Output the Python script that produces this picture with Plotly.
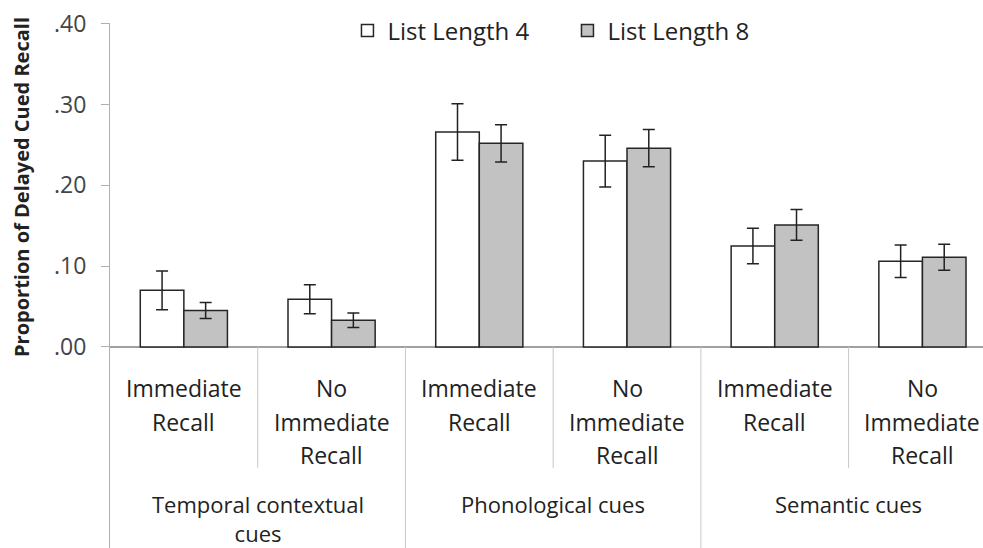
import plotly.graph_objects as go

# ---- data ----
conditions = ["Temporal / Immediate Recall", "Temporal / No Immediate Recall",
              "Phonological / Immediate Recall", "Phonological / No Immediate Recall",
              "Semantic / Immediate Recall", "Semantic / No Immediate Recall"]
list4_values = [0.070, 0.059, 0.266, 0.230, 0.125, 0.106]
list4_errors = [0.024, 0.018, 0.035, 0.032, 0.022, 0.020]
list8_values = [0.045, 0.033, 0.252, 0.246, 0.151, 0.111]
list8_errors = [0.010, 0.009, 0.023, 0.023, 0.019, 0.016]
series_names = ["List Length 4", "List Length 8"]
sub_label_lines = [["Immediate", "Recall"], ["No", "Immediate", "Recall"]] * 3
group_labels = ["Temporal contextual<br>cues", "Phonological cues", "Semantic cues"]
tick_values = [0.0, 0.1, 0.2, 0.3, 0.4]
tick_labels = [".00", ".10", ".20", ".30", ".40"]
y_title = "Proportion of Delayed Cued Recall"

FONT = "Open Sans"
x_idx = list(range(len(conditions)))

fig = go.Figure()
fig.add_trace(go.Bar(
    x=x_idx, y=list4_values, name=series_names[0],
    marker=dict(color="white", line=dict(color="#262626", width=1.5)),
    error_y=dict(type="data", array=list4_errors, color="#222", thickness=1.5, width=6),
))
fig.add_trace(go.Bar(
    x=x_idx, y=list8_values, name=series_names[1],
    marker=dict(color="#c2c2c2", line=dict(color="#262626", width=1.5)),
    error_y=dict(type="data", array=list8_errors, color="#222", thickness=1.5, width=6),
))

shapes = []
# short dividers between sub-categories inside a group
for g in range(3):
    xd = 2 * g + 0.5
    shapes.append(dict(type="line", xref="x", yref="y", x0=xd, x1=xd, y0=0, y1=-0.150,
                       line=dict(color="#c8c8c8", width=1)))
# long dividers between groups
for g in range(1, 4):
    xd = 2 * g - 0.5
    shapes.append(dict(type="line", xref="x", yref="y", x0=xd, x1=xd, y0=0, y1=-0.26,
                       line=dict(color="#c8c8c8", width=1)))

annotations = []
row_y = [-0.0508, -0.0929, -0.1337]
for i, lines in enumerate(sub_label_lines):
    for r, txt in enumerate(lines):
        annotations.append(dict(x=i, y=row_y[r], xref="x", yref="y", text=txt,
                                showarrow=False, xanchor="center", yanchor="middle",
                                font=dict(family=FONT, size=23, color="#222")))
for g, txt in enumerate(group_labels):
    annotations.append(dict(x=2 * g + 0.5, y=-0.1735, xref="x", yref="y", text=txt,
                            showarrow=False, xanchor="center", yanchor="top", align="center",
                            font=dict(family=FONT, size=22, color="#222")))
annotations.append(dict(x=0, y=0.198, xref="paper", yref="y", text="<b>" + y_title + "</b>",
                        textangle=-90, showarrow=False, xanchor="center", yanchor="middle",
                        xshift=-88, font=dict(family=FONT, size=20, color="#222")))

fig.update_layout(
    width=983, height=548,
    margin=dict(l=110, r=0, t=23, b=0, pad=0),
    paper_bgcolor="white", plot_bgcolor="white",
    barmode="group", bargap=0.41, bargroupgap=0,
    showlegend=True,
    legend=dict(orientation="h", x=0.272, xanchor="left", y=0.985, yanchor="middle",
                font=dict(family=FONT, size=24, color="#222"),
                entrywidth=175, entrywidthmode="pixels",
                bgcolor="rgba(0,0,0,0)", borderwidth=0),
    xaxis=dict(range=[-0.5, 5.41], showticklabels=False, showgrid=False,
               zeroline=False, showline=False, ticks=""),
    yaxis=dict(range=[-0.249, 0.401], tickvals=tick_values, ticktext=tick_labels,
               ticks="outside", ticklen=8, tickcolor="#b0b0b0", tickwidth=1,
               showline=True, linecolor="#b0b0b0", linewidth=1,
               showgrid=False, zeroline=True, zerolinecolor="#a0a0a0", zerolinewidth=1.5,
               ticklabelstandoff=10, ticklabeloverflow="allow",
               tickfont=dict(family=FONT, size=23, color="#444")),
    shapes=shapes, annotations=annotations,
)

fig.write_html("out.html", config={"displayModeBar": False},
               post_script="document.body.style.margin='0';document.body.style.overflow='hidden';")
